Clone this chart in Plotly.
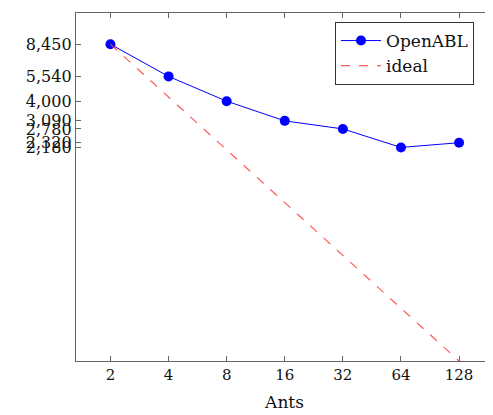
import math
import plotly.graph_objects as go

ants = [2, 4, 8, 16, 32, 64, 128]
openabl = [8450, 5540, 4000, 3090, 2780, 2180, 2320]
ideal = [8450, 4225, 2112.5, 1056.25, 528.125, 264.0625, 132.03]
x_ticks = [2, 4, 8, 16, 32, 64, 128]
y_ticks = [8450, 5540, 4000, 3090, 2780, 2320, 2180]
y_ticktext = ["8,450", "5,540", "4,000", "3,090", "2,780", "2,320", "2,180"]

FONT = "DejaVu Serif"

fig = go.Figure()
fig.add_trace(go.Scatter(
    x=ants, y=openabl, mode="lines+markers", name="OpenABL",
    line=dict(color="#0000ff", width=1),
    marker=dict(color="#0000ff", size=10, symbol="circle"),
))
fig.add_trace(go.Scatter(
    x=ants, y=ideal, mode="lines", name="ideal",
    line=dict(color="rgba(255,60,60,0.85)", width=1.2, dash="dash"),
))

# page body has an 8px margin, so the figure is sized to fit the window
W, H = 485, 407
L, R, T, B = 68, 0, 5, 54
fig.update_layout(
    width=W, height=H,
    margin=dict(l=L, r=R, t=T, b=B, autoexpand=False),
    paper_bgcolor="white", plot_bgcolor="white",
    font=dict(family=FONT, size=16, color="#111"),
    showlegend=True,
    legend=dict(
        x=(335 - 8 - L) / (W - L - R), y=1 - (22 - 8 - T) / (H - T - B),
        xanchor="left", yanchor="top",
        bordercolor="#333", borderwidth=1, bgcolor="white",
        font=dict(family=FONT, size=17),
        tracegroupgap=0, itemwidth=40,
    ),
)
fig.update_xaxes(
    type="log",
    range=[math.log10(2 ** 0.407), math.log10(2 ** 7.584)],
    tickvals=x_ticks, ticktext=[str(v) for v in x_ticks],
    ticks="inside", ticklen=5, tickcolor="#666", tickwidth=1,
    showline=True, linecolor="#666", linewidth=1.3, mirror="ticks",
    showgrid=False, zeroline=False, automargin=False,
    tickfont=dict(family=FONT, size=15),
    title=dict(text="Ants", font=dict(family=FONT, size=17), standoff=12),
)
fig.update_yaxes(
    type="log",
    range=[2.1207, 4.105],
    tickvals=y_ticks, ticktext=y_ticktext,
    ticks="inside", ticklen=5, tickcolor="#666", tickwidth=1,
    showline=True, linecolor="#666", linewidth=1.3, mirror="ticks",
    showgrid=False, zeroline=False, automargin=False,
    tickfont=dict(family=FONT, size=16),
)

fig.write_html("out.html")
